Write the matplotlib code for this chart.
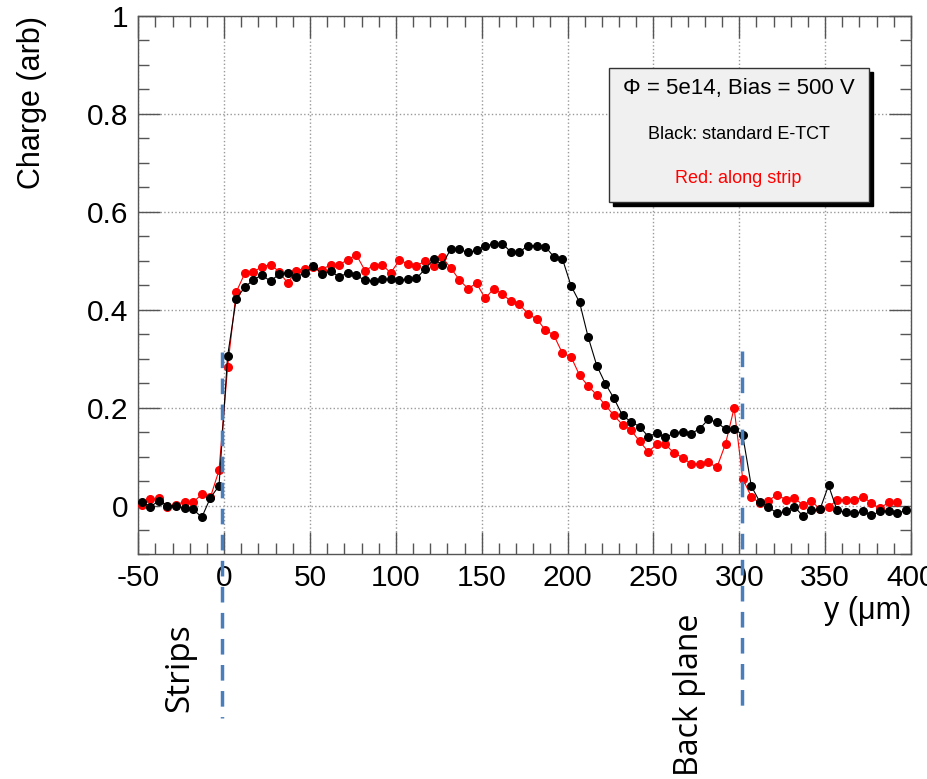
import numpy as np
import matplotlib
matplotlib.use('Agg')
import matplotlib.pyplot as plt
from matplotlib.patches import Rectangle
from matplotlib.ticker import MultipleLocator, FixedFormatter, FixedLocator
import matplotlib.transforms as mtransforms

# scan positions (um), 5 um steps
y_black = np.arange(-48, 398, 5)
y_red = np.arange(-48, 393, 5)

# standard E-TCT
q_black = [0.007, -0.002, 0.009, 0.000, -0.001, -0.005, -0.008, -0.024, 0.016, 0.040,
           0.305, 0.422, 0.446, 0.461, 0.471, 0.458, 0.473, 0.475, 0.467, 0.475,
           0.489, 0.473, 0.480, 0.466, 0.476, 0.470, 0.460, 0.459, 0.462, 0.462,
           0.461, 0.462, 0.464, 0.483, 0.503, 0.492, 0.524, 0.523, 0.517, 0.521,
           0.531, 0.534, 0.535, 0.518, 0.518, 0.531, 0.531, 0.529, 0.508, 0.504,
           0.449, 0.415, 0.344, 0.286, 0.249, 0.219, 0.184, 0.171, 0.161, 0.141,
           0.148, 0.139, 0.148, 0.151, 0.147, 0.157, 0.176, 0.170, 0.156, 0.157,
           0.144, 0.040, 0.007, -0.003, -0.016, -0.012, -0.002, -0.021, -0.010, -0.008,
           0.041, -0.010, -0.014, -0.016, -0.012, -0.020, -0.012, -0.011, -0.016, -0.010]

# along strip
q_red = [0.002, 0.013, 0.015, -0.003, 0.002, 0.008, 0.007, 0.023, 0.017, 0.072,
         0.282, 0.436, 0.474, 0.477, 0.488, 0.492, 0.478, 0.454, 0.480, 0.484,
         0.488, 0.482, 0.492, 0.492, 0.502, 0.512, 0.480, 0.490, 0.492, 0.475,
         0.501, 0.494, 0.490, 0.499, 0.490, 0.507, 0.485, 0.461, 0.443, 0.454,
         0.423, 0.443, 0.432, 0.417, 0.411, 0.391, 0.381, 0.359, 0.348, 0.311,
         0.304, 0.266, 0.244, 0.226, 0.205, 0.184, 0.165, 0.154, 0.131, 0.110,
         0.125, 0.125, 0.107, 0.098, 0.085, 0.085, 0.088, 0.078, 0.126, 0.199,
         0.055, 0.018, 0.005, 0.010, 0.022, 0.012, 0.016, 0.001, 0.010, -0.008,
         -0.003, 0.011, 0.012, 0.011, 0.018, 0.005, -0.006, 0.007, 0.007]

ytick_vals = [0, 0.2, 0.4, 0.6, 0.8, 1]
ytick_labels = ['0', '0.2', '0.4', '0.6', '0.8', '1']
xtick_vals = [-50, 0, 50, 100, 150, 200, 250, 300, 350, 400]
xtick_labels = ['-50', '0', '50', '100', '150', '200', '250', '300', '350', '400']

plt.rcParams['font.family'] = ['Liberation Sans', 'DejaVu Sans']

fig = plt.figure(figsize=(9.27, 7.79), dpi=100)
ax = fig.add_axes([0.1492, 0.2882, 0.8335, 0.6913])

ax.plot(y_red, q_red, '-o', color='red', lw=0.8, ms=5.5, zorder=3)
ax.plot(y_black, q_black, '-o', color='black', lw=0.8, ms=5.5, zorder=4)

ax.set_xlim(-50, 400)
ax.set_ylim(-0.1, 1)

ax.xaxis.set_major_locator(FixedLocator(xtick_vals))
ax.xaxis.set_major_formatter(FixedFormatter(xtick_labels))
ax.yaxis.set_major_locator(FixedLocator(ytick_vals))
ax.yaxis.set_major_formatter(FixedFormatter(ytick_labels))
ax.xaxis.set_minor_locator(MultipleLocator(10))
ax.yaxis.set_minor_locator(MultipleLocator(0.05))

ax.tick_params(which='both', direction='in', top=True, right=True, color='#555555')
ax.tick_params(which='major', length=16, width=1, labelsize=21.5, pad=7)
ax.tick_params(which='minor', length=8, width=1)
ax.grid(True, which='major', linestyle=':', color='#9a9a9a', lw=1)
for s in ax.spines.values():
    s.set_linewidth(1)
    s.set_color('#555555')

ax.set_ylabel('Charge (arb)', fontsize=22, loc='top')
ax.yaxis.set_label_coords(-0.118, 1)
ax.set_xlabel('y (μm)', fontsize=22, loc='right')
ax.xaxis.set_label_coords(1, -0.077)

# info box with shadow
off = 4 / 772.7
offy = 4 / 538.5
ax.add_patch(Rectangle((0.609 + off, 0.6546 - offy), 0.337, 0.2488,
                       transform=ax.transAxes, facecolor='black', edgecolor='black', zorder=5))
ax.add_patch(Rectangle((0.609, 0.6546), 0.337, 0.2488, transform=ax.transAxes,
                       facecolor='#f0f0f0', edgecolor='#333333', lw=1, zorder=6))
ax.text(0.777, 0.866, 'Φ = 5e14, Bias = 500 V', transform=ax.transAxes,
        ha='center', va='center', fontsize=16, zorder=7)
ax.text(0.777, 0.779, 'Black: standard E-TCT', transform=ax.transAxes,
        ha='center', va='center', fontsize=13, zorder=7)
ax.text(0.777, 0.699, 'Red: along strip', transform=ax.transAxes,
        ha='center', va='center', fontsize=13, color='red', zorder=7)

# strip / back plane markers
trans = mtransforms.blended_transform_factory(ax.transData, ax.transAxes)
ax.plot([-1, -1], [0.376, -0.303], transform=trans, color='#4a7ebb', lw=2.5,
        ls=(0, (4.5, 3)), clip_on=False, zorder=8)
ax.plot([301.5, 301.5], [0.378, -0.281], transform=trans, color='#4a7ebb', lw=2.5,
        ls=(0, (4.5, 3)), clip_on=False, zorder=8)

fig.text(0.194, 0.1425, 'Strips', rotation=90, ha='center', va='center',
         fontsize=24, family=['Open Sans', 'DejaVu Sans'])
fig.text(0.744, 0.108, 'Back plane', rotation=90, ha='center', va='center',
         fontsize=23, family=['Open Sans', 'DejaVu Sans'])

fig.savefig('out.png', dpi=100)
